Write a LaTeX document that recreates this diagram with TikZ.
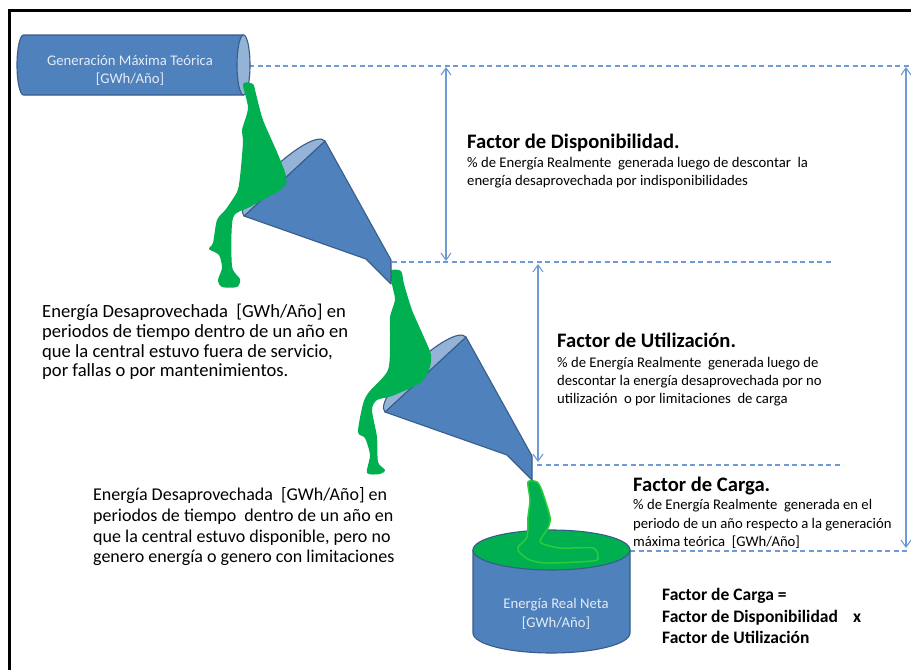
\documentclass[tikz,border=0pt]{standalone}
\usepackage{fontspec}
\setmainfont{Carlito}
\usetikzlibrary{arrows.meta}

\definecolor{cylblue}{HTML}{4F81BD}
\definecolor{cyledge}{HTML}{385D8A}
\definecolor{cylface}{HTML}{95B3D7}
\definecolor{water}{HTML}{00B050}
\definecolor{waterrim}{HTML}{2BCB3A}
\definecolor{guide}{HTML}{6F9BD4}
\definecolor{labeltxt}{HTML}{E4EBF5}

\tikzset{
  solid body/.style={fill=cylblue, draw=cyledge, line width=1.1pt, line join=round},
  inner face/.style={fill=cylface, draw=cyledge, line width=1.1pt, line join=round},
  liquid/.style={fill=water, draw=none},
  level line/.style={draw=guide, line width=1.2pt, dash pattern=on 5pt off 3.5pt},
  span arrow/.style={draw=guide, line width=1.1pt,
    {Straight Barb[length=7pt,width=10pt]}-{Straight Barb[length=7pt,width=10pt]}},
  txt/.style={anchor=base west, inner sep=0pt, text=black},
  note/.style={txt, font=\fontsize{14.7}{18}\selectfont},
  heading/.style={txt, font=\fontsize{20.6}{24}\selectfont\bfseries},
  formula/.style={txt, font=\fontsize{17.5}{21}\selectfont\bfseries},
  lossE/.style={txt, font=\fontsize{18.6}{20}\selectfont},
  lossF/.style={txt, font=\fontsize{18}{20}\selectfont},
  cyl label/.style={anchor=base, inner sep=0pt, text=labeltxt, font=\fontsize{14.7}{18}\selectfont},
  funnel/.pic={
    % cone and spout
    \path[solid body] (466,337) -- (532,456) -- (532,480) -- (507,455) -- (385,412) -- cycle;
    % visible inside of the mouth
    \path[inner face] (385,412) .. controls (371.4,397.3) and (452.4,322.3) .. (466,337) -- cycle;
  }
}

\begin{document}
\begin{tikzpicture}[x=1pt, y=-1pt]
  \useasboundingbox (0,0) rectangle (911,670);
  \fill[white] (0,0) rectangle (911,670);

  % outer frame (left and top edges)
  \draw[line width=2.4pt] (9.5,670) -- (9.5,10.3) -- (911,10.3);

  % level guides
  \coordinate (lvl0s) at (249,66);  \coordinate (lvl0e) at (911,66);
  \coordinate (lvl1s) at (392,262); \coordinate (lvl1e) at (831,262);
  \coordinate (lvl2s) at (537,465); \coordinate (lvl2e) at (843,465);
  \coordinate (lvl3s) at (630,551); \coordinate (lvl3e) at (911,551);
  \draw[level line] (lvl0s) -- (lvl0e);
  \draw[level line] (lvl1s) -- (lvl1e);
  \draw[level line] (lvl2s) -- (lvl2e);
  \draw[level line] (lvl3s) -- (lvl3e);

  % spans between levels
  \coordinate (sa1) at (446,67);  \coordinate (sa2) at (446,261);
  \coordinate (sb1) at (538,264); \coordinate (sb2) at (538,462);
  \coordinate (sc1) at (906,67);  \coordinate (sc2) at (906,548);
  \draw[span arrow] (sa1) -- (sa2);
  \draw[span arrow] (sb1) -- (sb2);
  \draw[span arrow] (sc1) -- (sc2);

  % storage tank
  \path[solid body] (473,550) -- (473,633)
    arc[start angle=180, end angle=0, x radius=78.5, y radius=20] -- (630,550) -- cycle;
  \path[fill=water, draw=cyledge, line width=1.1pt] (551.5,550) ellipse[x radius=78.5, y radius=20];
  \node[cyl label] (tank1) at (556,608) {Energía Real Neta};
  \node[cyl label] (tank2) at (556,627) {[GWh/Año]};

  % stream into the tank
  \path[liquid, draw=waterrim, line width=1.5pt] plot[smooth cycle, tension=0.45] coordinates {
    (528,482) (537,482) (542,491) (550,517) (548,528) (542,537) (541,543) (560,548)
    (593,548) (598,557) (593,561) (547,563) (530,560) (520,553) (518,547) (527,537)
    (528,517) (530,500)};

  % second funnel
  \pic at (0,0) {funnel};

  % stream from the first funnel
  \path[liquid] plot[smooth cycle, tension=0.45] coordinates {
    (390,271) (401,271) (404,284) (412,310) (423,335) (431,355) (429,370) (420,383)
    (392,396) (377,400) (372,410) (377,437) (378,462) (385,470) (380,474) (367,473)
    (370,455) (365,438) (358,432) (363,404) (369,392) (388,370) (390,337) (390,317)
    (395,300) (393,289)};

  % first funnel
  \pic at (-141,-196) {funnel};

  % supply pipe
  \path[solid body] (243.5,35) -- (23.5,35)
    arc[start angle=270, end angle=90, x radius=6.5, y radius=30] -- (243.5,95) -- cycle;
  \path[inner face] (243.5,65) ellipse[x radius=6.5, y radius=30];
  \node[cyl label] (gen1) at (130,65) {Generación Máxima Teórica};
  \node[cyl label] (gen2) at (130,83) {[GWh/Año]};

  % stream from the pipe
  \path[liquid] plot[smooth cycle, tension=0.45] coordinates {
    (243,84) (248,108) (242,130) (243,142) (240,177) (237,192) (226,209) (217,220)
    (213,243) (209,249) (219,255) (222,268) (218,280) (222,287) (237,287) (240,279)
    (232,266) (233,218) (250,207) (283,188) (286,176) (277,152) (263,120) (256,94)
    (253,84)};

  % availability factor
  \node[heading] (fd) at (467,148) {Factor de Disponibilidad.};
  \node[note] (fd1) at (467,167) {\% de Energía Realmente\ \ generada luego de descontar\ \ la};
  \node[note] (fd2) at (467,185) {energía desaprovechada por indisponibilidades};

  % utilisation factor
  \node[heading] (fu) at (557,347) {Factor de Utilización.};
  \node[note] (fu1) at (557,367) {\% de Energía Realmente\ \ generada luego de};
  \node[note] (fu2) at (557,385) {descontar la energía desaprovechada por no};
  \node[note] (fu3) at (557,403) {utilización\ \ o por limitaciones\ \ de carga};

  % load factor
  \node[heading] (fc) at (633,491) {Factor de Carga.};
  \node[note] (fc1) at (633,509) {\% de Energía Realmente\ \ generada en el};
  \node[note] (fc2) at (633,528) {periodo de un año respecto a la generación};
  \node[note] (fc3) at (633,546) {máxima teórica\ \ [GWh/Año]};

  % relation between the factors
  \node[formula] (eq1) at (662,600) {Factor de Carga =};
  \node[formula] (eq2) at (662,622) {Factor de Disponibilidad};
  \node[formula] (eqx) at (853,622) {x};
  \node[formula] (eq3) at (662,643) {Factor de Utilización};

  % energy lost while out of service
  \node[lossE] (le1) at (42,317) {Energía Desaprovechada\ \ [GWh/Año] en};
  \node[lossE] (le2) at (42,337) {periodos de tiempo dentro de un año en};
  \node[lossE] (le3) at (42,357) {que la central estuvo fuera de servicio,};
  \node[lossE] (le4) at (42,376) {por fallas o por mantenimientos.};

  % energy lost while available
  \node[lossF] (lf1) at (93,500) {Energía Desaprovechada\ \ [GWh/Año] en};
  \node[lossF] (lf2) at (93,521) {periodos de tiempo\ \ dentro de un año en};
  \node[lossF] (lf3) at (93,542) {que la central estuvo disponible, pero no};
  \node[lossF] (lf4) at (93,562) {genero energía o genero con limitaciones};
\end{tikzpicture}
\end{document}
